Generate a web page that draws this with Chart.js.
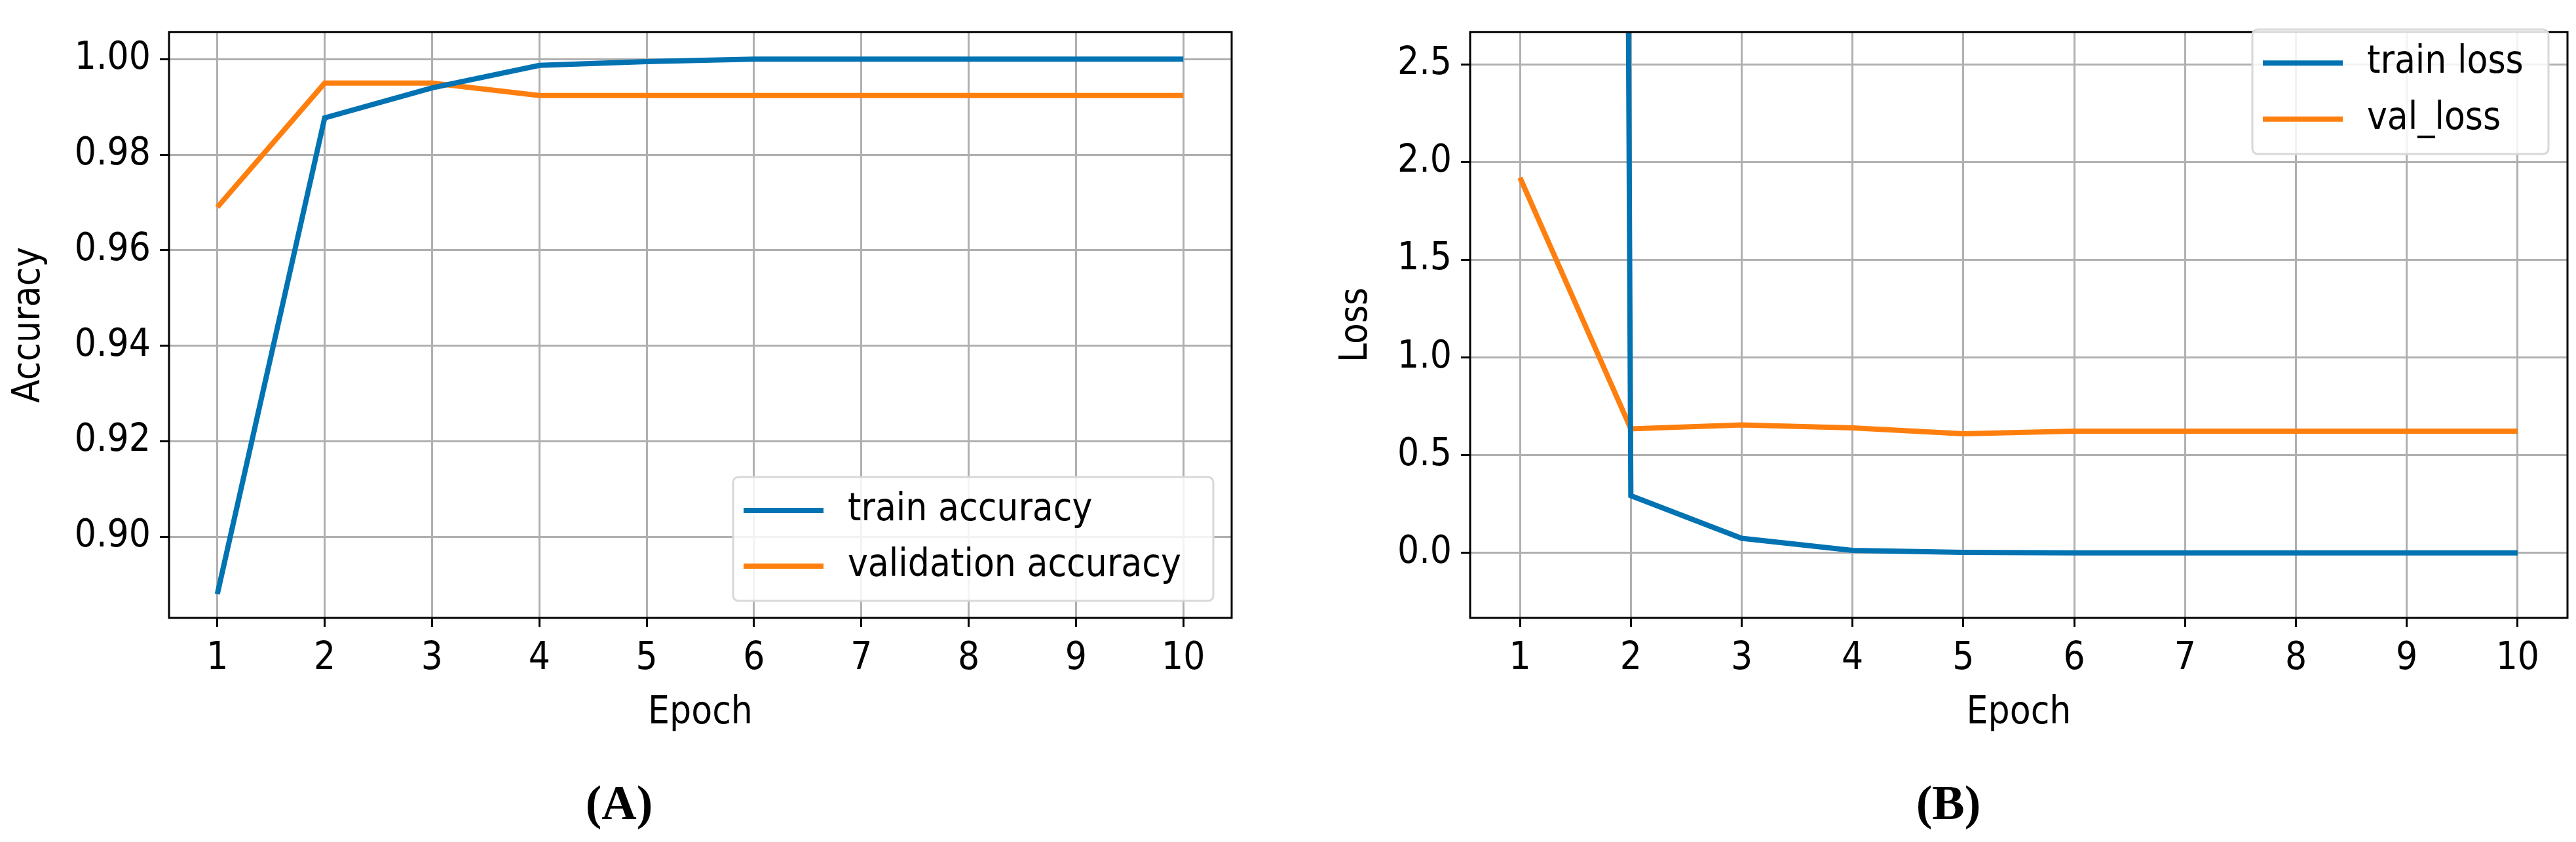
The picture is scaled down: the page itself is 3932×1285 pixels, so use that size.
<!DOCTYPE html>
<html>
<head>
<meta charset="utf-8">
<script src="https://cdn.jsdelivr.net/npm/chart.js@4/dist/chart.umd.min.js"></script>
<style>
  body { margin: 0; background: #fff; width: 3932px; height: 1285px; position: relative; overflow: hidden; }
  .box { position: absolute; top: 0; height: 1285px; }
  .cap { position: absolute; top: 1183px; font: bold 74px "Liberation Serif", serif; transform: translateX(-50%); }
</style>
</head>
<body>
<div class="box" style="left:0;width:1966px"><canvas id="acc"></canvas></div>
<div class="box" style="left:1966px;width:1966px"><canvas id="loss"></canvas></div>
<div class="cap" style="left:945px">(A)</div>
<div class="cap" style="left:2974px">(B)</div>
<script>
// data
const epochs = [1, 2, 3, 4, 5, 6, 7, 8, 9, 10];
const trainAcc = [0.888, 0.9877, 0.994, 0.9987, 0.9995, 1.0, 1.0, 1.0, 1.0, 1.0];
const valAcc = [0.969, 0.995, 0.995, 0.9924, 0.9924, 0.9924, 0.9924, 0.9924, 0.9924, 0.9924];
const trainLoss = [2000, 0.293, 0.075, 0.013, 0.003, 0.001, 0.001, 0.001, 0.001, 0.001];
const valLoss = [1.92, 0.635, 0.655, 0.64, 0.61, 0.623, 0.623, 0.623, 0.623, 0.623];
const accTicks = [0.90, 0.92, 0.94, 0.96, 0.98, 1.00];
const lossTicks = [0.0, 0.5, 1.0, 1.5, 2.0, 2.5];

const BLUE = '#0173b2', ORANGE = '#ff7f0e', GRID = '#b0b0b0';
const FONT = '"DejaVu Sans Condensed", "DejaVu Sans", sans-serif';
Chart.defaults.font.family = FONT;
Chart.defaults.color = '#000';

// frame + in-plot legend
const framePlugin = {
  id: 'frame',
  afterDraw(chart, args, opts) {
    const { ctx, chartArea: a } = chart;
    ctx.save();
    ctx.strokeStyle = '#000';
    ctx.lineWidth = 3;
    ctx.strokeRect(a.left, a.top, a.right - a.left, a.bottom - a.top);
    // legend box
    const b = opts.box;
    ctx.fillStyle = 'rgba(255,255,255,0.85)';
    ctx.strokeStyle = '#d8d8d8';
    ctx.lineWidth = 3;
    ctx.beginPath();
    ctx.roundRect(b.x, b.y, b.w, b.h, 8);
    ctx.fill();
    ctx.stroke();
    ctx.font = '58px ' + FONT;
    ctx.textBaseline = 'middle';
    chart.data.datasets.forEach((ds, i) => {
      const y = b.y + b.h * (i === 0 ? 0.27 : 0.72);
      ctx.strokeStyle = ds.borderColor;
      ctx.lineWidth = 8;
      ctx.beginPath();
      ctx.moveTo(b.x + 16, y);
      ctx.lineTo(b.x + 138, y);
      ctx.stroke();
      ctx.fillStyle = '#000';
      ctx.fillText(ds.label, b.x + 175, y);
    });
    ctx.restore();
  }
};

function makeChart(id, sets, yMin, yMax, yTicks, yTitle, yDigits, padLeft, yWidth, legendBox) {
  new Chart(document.getElementById(id), {
    type: 'line',
    data: {
      datasets: sets.map(s => ({
        label: s.label,
        data: epochs.map((e, i) => ({ x: e, y: s.values[i] })),
        borderColor: s.color,
        borderWidth: 8,
        pointRadius: 0,
        tension: 0,
        fill: false
      }))
    },
    options: {
      responsive: true,
      maintainAspectRatio: false,
      animation: false,
      layout: { padding: { left: padLeft, right: 1966 - padLeft - yWidth - (id === 'acc' ? 1622 : 1675), top: 15, bottom: 157 } },
      plugins: { legend: { display: false }, tooltip: { enabled: false }, frame: { box: legendBox } },
      scales: {
        x: {
          type: 'linear', min: 0.55, max: 10.45,
          afterBuildTicks: ax => { ax.ticks = epochs.map(v => ({ value: v })); },
          ticks: { font: { size: 58 }, padding: 14, maxRotation: 0 },
          grid: { color: GRID, lineWidth: 3, tickLength: 14, tickColor: '#000' },
          border: { display: false },
          title: { display: true, text: 'Epoch', font: { size: 58 }, padding: { top: 4 } },
          afterFit: ax => { ax.height = 185; }
        },
        y: {
          min: yMin, max: yMax,
          afterBuildTicks: ax => { ax.ticks = yTicks.map(v => ({ value: v })); },
          ticks: { font: { size: 58 }, padding: 14, callback: v => v.toFixed(yDigits) },
          grid: { color: GRID, lineWidth: 3, tickLength: 14, tickColor: '#000' },
          border: { display: false },
          title: { display: true, text: yTitle, font: { size: 58 }, padding: 0 },
          afterFit: ax => { ax.width = yWidth; }
        }
      }
    },
    plugins: [framePlugin]
  });
}

makeChart('acc',
  [{ label: 'train accuracy', values: trainAcc, color: BLUE },
   { label: 'validation accuracy', values: valAcc, color: ORANGE }],
  0.883, 1.0057, accTicks, 'Accuracy', 2, 10, 248,
  { x: 1119, y: 728, w: 733, h: 189 });

makeChart('loss',
  [{ label: 'train loss', values: trainLoss, color: BLUE },
   { label: 'val_loss', values: valLoss, color: ORANGE }],
  -0.332, 2.665, lossTicks, 'Loss', 1, 70, 208,
  { x: 1472, y: 45, w: 452, h: 190 });
</script>
</body>
</html>
